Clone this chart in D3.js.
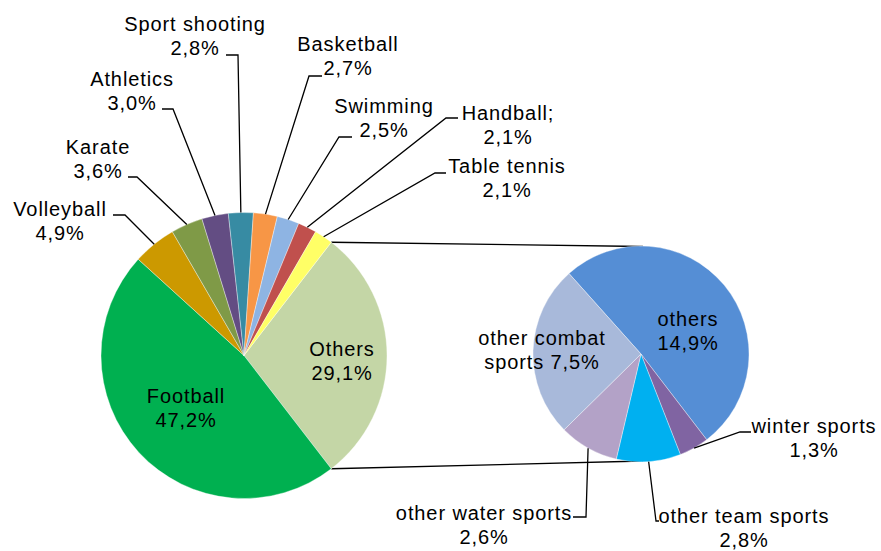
<!DOCTYPE html>
<html>
<head>
<meta charset="utf-8">
<script src="https://cdn.jsdelivr.net/npm/d3@7"></script>
<style>
  html, body { margin: 0; padding: 0; background: #fff; }
  svg { display: block; }
  text { font-family: "Liberation Sans", Arial, sans-serif; font-size: 20px; fill: #000; letter-spacing: 0.9px; }
</style>
</head>
<body>
<svg id="chart" width="881" height="551"></svg>
<script>
// ---------- data ----------
const mainLabels = ["Others", "Football", "Volleyball", "Karate", "Athletics", "Sport shooting", "Basketball", "Swimming", "Handball;", "Table tennis"];
const mainValues = [29.1, 47.2, 4.9, 3.6, 3.0, 2.8, 2.7, 2.5, 2.1, 2.1];
const subLabels = ["others", "winter sports", "other team sports", "other water sports", "other combat sports"];
const subValues = [14.9, 1.3, 2.8, 2.6, 7.5];

// ---------- styles ----------
const mainColors = ["#C4D6A6", "#00B050", "#CC9900", "#7F9A47", "#634D83", "#378BA3", "#F79646", "#8EB4E3", "#C0504D", "#FFFF66"];
const subColors = ["#558ED5", "#8064A2", "#00B0F0", "#B3A2C7", "#A8B9DA"];

// ---------- layout ----------
const main = { cx: 244, cy: 355.5, r: 143 };
const sub = { cx: 641, cy: 354, r: 108 };
const lineGap = 23.5;

const mainLabelLayout = {
  "Others":         { inside: true, x: 342, y: 356 },
  "Football":       { inside: true, x: 186, y: 403 },
  "Volleyball":     { x: 60,  y: 216, elbow: [125, 215], end: [113, 215] },
  "Karate":         { x: 98,  y: 154, elbow: [137, 177], end: [128, 177] },
  "Athletics":      { x: 132, y: 86,  elbow: [173, 109], end: [162, 109] },
  "Sport shooting": { x: 195, y: 31,  elbow: [238, 55],  end: [226, 55] },
  "Basketball":     { x: 348, y: 51,  elbow: [309, 76],  end: [322, 76] },
  "Swimming":       { x: 384, y: 113, elbow: [339, 137], end: [352, 137] },
  "Handball;":      { x: 508, y: 120, elbow: [446, 118], end: [458, 118] },
  "Table tennis":   { x: 507, y: 173, elbow: [435, 173], end: [446, 173] }
};
const subLabelLayout = {
  "others":              { inside: true, x: 688, y: 326 },
  "other combat sports": { inside: true, x: 542, y: 345, split: ["other combat", "sports "] },
  "winter sports":       { x: 814, y: 433, elbow: [740, 432], end: [751, 432] },
  "other team sports":   { x: 744, y: 523, elbow: [656, 521], end: [659, 521] },
  "other water sports":  { x: 484, y: 520, elbow: [586, 517], end: [573, 517] }
};

const fmt = v => d3.format(".1f")(v).replace(".", ",") + "%";
const deg = Math.PI / 180;

const svg = d3.select("#chart");

// main pie: "Others" centered on the right side
const mainStart = Math.PI / 2 - (mainValues[0] / d3.sum(mainValues)) * Math.PI;
const mainPie = d3.pie().sort(null).value(d => d.v).startAngle(mainStart).endAngle(mainStart + 2 * Math.PI);
const mainData = mainPie(mainLabels.map((l, i) => ({ label: l, v: mainValues[i], color: mainColors[i] })));

const subStart = -41.8 * deg;
const subPie = d3.pie().sort(null).value(d => d.v).startAngle(subStart).endAngle(subStart + 2 * Math.PI);
const subData = subPie(subLabels.map((l, i) => ({ label: l, v: subValues[i], color: subColors[i] })));

const mainArc = d3.arc().innerRadius(0).outerRadius(main.r);
const subArc = d3.arc().innerRadius(0).outerRadius(sub.r);

const edgePoint = (p, a, r) => [p.cx + r * Math.sin(a), p.cy - r * Math.cos(a)];

// connector lines between pies
const othersSlice = mainData[0];
const pTop = edgePoint(main, othersSlice.startAngle, main.r);
const pBot = edgePoint(main, othersSlice.endAngle, main.r);
svg.append("line").attr("x1", pTop[0]).attr("y1", pTop[1]).attr("x2", sub.cx + 2).attr("y2", sub.cy - sub.r + 0.5)
  .attr("stroke", "#000").attr("stroke-width", 1.3);
svg.append("line").attr("x1", pBot[0]).attr("y1", pBot[1]).attr("x2", sub.cx + 2).attr("y2", sub.cy + sub.r - 1)
  .attr("stroke", "#000").attr("stroke-width", 1.3);

function drawPie(data, geo, arc, layout) {
  const g = svg.append("g").attr("transform", `translate(${geo.cx},${geo.cy})`);
  g.selectAll("path").data(data).join("path")
    .attr("d", arc)
    .attr("fill", d => d.data.color)
    .attr("stroke", "rgba(255,255,255,0.6)")
    .attr("stroke-width", 0.6);

  data.forEach(d => {
    const L = layout[d.data.label];
    if (!L) return;
    const pct = fmt(d.data.v);
    let lines;
    if (L.split) lines = [L.split[0], L.split[1] + pct];
    else lines = [d.data.label, pct];
    if (!L.inside) {
      const mid = (d.startAngle + d.endAngle) / 2;
      const p = edgePoint(geo, mid, geo.r);
      svg.append("polyline")
        .attr("points", [p, L.elbow, L.end].map(q => q.join(",")).join(" "))
        .attr("fill", "none").attr("stroke", "#000").attr("stroke-width", 1.3);
    }
    const t = svg.append("text").attr("text-anchor", "middle");
    lines.forEach((s, i) => {
      t.append("tspan").attr("x", L.x).attr("y", L.y + i * lineGap).text(s);
    });
  });
}

drawPie(mainData, main, mainArc, mainLabelLayout);
drawPie(subData, sub, subArc, subLabelLayout);
</script>
</body>
</html>
